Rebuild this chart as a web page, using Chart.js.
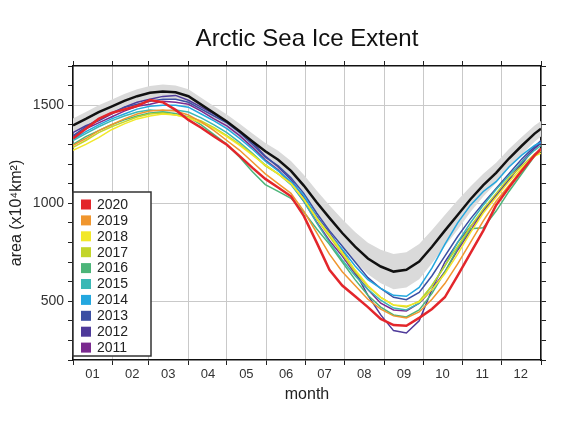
<!DOCTYPE html>
<html>
<head>
<meta charset="utf-8">
<script src="https://cdn.jsdelivr.net/npm/chart.js@4.4.1/dist/chart.umd.min.js"></script>
<style>
  body { margin: 0; background: #fff; }
  #wrap { width: 588px; height: 430px; }
</style>
</head>
<body>
<div id="wrap"><canvas id="iceChart" width="588" height="430"></canvas></div>
<script>
// day of year for each sample
var days = [0,10,20,30,40,50,60,70,80,90,100,110,120,130,140,150,160,170,180,190,200,210,220,230,240,250,260,270,280,290,300,310,320,330,340,350,360,365];
var monthStarts = [0,31,59,90,120,151,181,212,243,273,304,334,365];
var monthLabels = ["01","02","03","04","05","06","07","08","09","10","11","12"];
var yearLabels = ["2020","2019","2018","2017","2016","2015","2014","2013","2012","2011"];
var yearColors = ["#e3262b","#f0962e","#f2e82a","#c2d52a","#4cb579","#3bb8b5","#23a7df","#3b4fa3","#4e3a9a","#7a2a8f"];

// climatology mean and +/- band
var meanExt = [1397,1430,1465,1493,1522,1546,1563,1570,1566,1546,1503,1460,1417,1367,1315,1265,1222,1165,1090,1005,925,848,778,718,677,651,660,702,778,860,940,1020,1092,1155,1228,1293,1355,1380];
var bandHigh = [1432,1465,1500,1528,1557,1581,1598,1605,1601,1581,1538,1495,1452,1405,1355,1307,1267,1215,1145,1065,990,918,853,798,762,741,750,792,863,940,1015,1085,1150,1207,1276,1338,1397,1420];
var bandLow = [1362,1395,1430,1458,1487,1511,1528,1535,1531,1511,1468,1425,1382,1329,1275,1223,1177,1115,1035,945,860,778,703,638,592,561,570,612,693,780,865,955,1034,1103,1180,1248,1313,1340];

var ext2020 = [1330,1380,1430,1460,1478,1496,1526,1515,1476,1425,1385,1340,1298,1240,1180,1124,1080,1035,935,800,660,580,525,470,410,378,375,415,460,520,630,745,860,990,1080,1165,1245,1278];
var ext2019 = [1295,1330,1370,1400,1430,1455,1470,1475,1470,1450,1415,1370,1320,1270,1210,1150,1100,1050,960,850,740,650,580,510,460,425,415,445,510,590,690,800,910,1010,1090,1170,1240,1270];
var ext2018 = [1270,1300,1335,1375,1405,1430,1445,1455,1450,1435,1410,1380,1340,1295,1245,1195,1150,1100,1020,925,840,750,660,580,520,480,475,495,560,640,740,850,950,1030,1110,1180,1240,1255];
var ext2017 = [1285,1320,1360,1390,1415,1440,1455,1460,1450,1440,1420,1385,1345,1300,1250,1190,1150,1100,1020,920,830,740,650,575,520,480,470,500,580,680,780,880,970,1050,1130,1190,1250,1270];
var ext2016 = [1300,1340,1370,1400,1425,1445,1460,1465,1458,1440,1400,1350,1300,1235,1160,1095,1060,1025,955,870,790,700,610,530,470,430,420,455,540,650,770,870,875,960,1060,1150,1240,1270];
var ext2015 = [1320,1355,1390,1420,1445,1465,1475,1470,1475,1465,1435,1400,1360,1310,1255,1195,1150,1095,1010,900,800,710,630,560,505,465,455,490,580,680,800,900,990,1070,1140,1210,1270,1295];
var ext2014 = [1325,1365,1400,1430,1455,1480,1495,1500,1500,1490,1455,1420,1380,1330,1275,1215,1165,1110,1040,930,840,765,680,610,565,530,525,570,670,790,900,990,1060,1110,1185,1245,1295,1310];
var ext2013 = [1345,1390,1430,1460,1488,1505,1520,1530,1530,1515,1480,1445,1410,1360,1300,1235,1190,1130,1050,950,860,780,700,620,565,520,508,545,630,730,830,920,1000,1075,1150,1225,1290,1320];
var ext2012 = [1360,1395,1420,1455,1490,1515,1530,1545,1550,1525,1490,1455,1415,1365,1310,1240,1185,1120,1030,935,850,760,650,530,430,350,338,400,560,700,800,880,960,1040,1120,1200,1280,1310];
var ext2011 = [1340,1380,1410,1440,1470,1495,1505,1520,1515,1505,1470,1430,1395,1345,1285,1220,1170,1100,1010,905,810,730,640,560,490,455,450,490,560,650,760,860,960,1040,1120,1210,1280,1305];

var yearSeries = [ext2020, ext2019, ext2018, ext2017, ext2016, ext2015, ext2014, ext2013, ext2012, ext2011];

function pts(arr) {
	return days.map(function (d, i) { return { x: d, y: arr[i] }; });
}

var datasets = [];
datasets.push({
	label: 'mean',
	data: pts(meanExt),
	borderColor: '#111',
	borderWidth: 2.5,
	pointRadius: 0,
	fill: false,
	order: 0
});
yearSeries.forEach(function (s, i) {
	datasets.push({
		label: yearLabels[i],
		data: pts(s),
		borderColor: yearColors[i],
		backgroundColor: yearColors[i],
		borderWidth: i === 0 ? 2.5 : 1.5,
		pointRadius: 0,
		fill: false,
		isYear: true,
		order: i + 1
	});
});
datasets.push({
	label: 'high',
	data: pts(bandHigh),
	borderWidth: 0,
	borderColor: 'rgba(0,0,0,0)',
	backgroundColor: '#dadada',
	pointRadius: 0,
	fill: '+1',
	order: 20
});
datasets.push({
	label: 'low',
	data: pts(bandLow),
	borderWidth: 0,
	borderColor: 'rgba(0,0,0,0)',
	pointRadius: 0,
	fill: false,
	order: 21
});

// legend box drawn inside the plot, lower left
var insideLegend = {
	id: 'insideLegend',
	afterDraw: function (chart) {
		var ctx = chart.ctx;
		var a = chart.chartArea;
		var x0 = a.left, y0 = a.bottom - 168, w = 78, h = 164;
		ctx.save();
		ctx.fillStyle = '#fff';
		ctx.fillRect(x0, y0, w, h);
		ctx.strokeStyle = '#333';
		ctx.lineWidth = 1.5;
		ctx.strokeRect(x0, y0, w, h);
		ctx.font = '14px "Liberation Sans", Arial, sans-serif';
		ctx.textBaseline = 'middle';
		ctx.fillStyle = '#222';
		var items = chart.data.datasets.filter(function (d) { return d.isYear; });
		items.forEach(function (d, i) {
			var cy = y0 + 12.5 + i * 15.9;
			ctx.fillStyle = d.borderColor;
			ctx.fillRect(x0 + 8, cy - 5, 10, 10);
			ctx.fillStyle = '#222';
			ctx.fillText(d.label, x0 + 24, cy + 0.5);
		});
		ctx.restore();
	}
};

var font = '"Liberation Sans", Arial, sans-serif';
var gridCol = '#c9c9c9';

new Chart(document.getElementById('iceChart').getContext('2d'), {
	type: 'line',
	data: { datasets: datasets },
	plugins: [insideLegend],
	options: {
		responsive: false,
		animation: false,
		layout: { padding: 0 },
		plugins: {
			legend: { display: false },
			tooltip: { enabled: false },
			title: {
				display: true,
				text: 'Arctic Sea Ice Extent',
				fullSize: false,
				color: '#111',
				font: { family: font, size: 24, weight: 'normal', lineHeight: 1.2 },
				padding: { top: 24.6, bottom: 0 }
			}
		},
		scales: {
			x: {
				type: 'linear',
				position: 'bottom',
				min: 0,
				max: 365,
				afterBuildTicks: function (scale) {
					scale.ticks = monthStarts.map(function (v) { return { value: v }; });
				},
				afterFit: function (scale) { scale.height = 70; },
				grid: { color: gridCol, tickColor: '#222', tickLength: 5, drawTicks: true },
				border: { color: '#111', width: 1.5 },
				ticks: {
					autoSkip: false,
					maxRotation: 0,
					labelOffset: 19.5,
					padding: 2,
					color: '#333',
					font: { family: font, size: 13 },
					callback: function (v, i) { return i < 12 ? monthLabels[i] : ''; }
				},
				title: {
					display: true,
					text: 'month',
					color: '#222',
					font: { family: font, size: 16 },
					padding: { top: 0, bottom: 25.4 }
				}
			},
			xTop: {
				type: 'linear',
				position: 'top',
				min: 0,
				max: 365,
				afterBuildTicks: function (scale) {
					scale.ticks = monthStarts.map(function (v) { return { value: v }; });
				},
				afterFit: function (scale) { scale.height = 12.6; },
				grid: { drawOnChartArea: false, tickColor: '#222', tickLength: 5 },
				border: { color: '#111', width: 1.5 },
				ticks: { display: false }
			},
			y: {
				position: 'left',
				min: 200,
				max: 1700,
				afterBuildTicks: function (scale) {
					var t = [];
					for (var v = 200; v <= 1700; v += 100) t.push({ value: v });
					scale.ticks = t;
				},
				afterFit: function (scale) { scale.width = 73; },
				grid: {
					color: function (c) { return c.tick && c.tick.value % 500 === 0 && c.tick.value < 1700 ? gridCol : 'rgba(0,0,0,0)'; },
					tickColor: '#222',
					tickLength: 5
				},
				border: { color: '#111', width: 1.5 },
				ticks: {
					autoSkip: false,
					padding: 4,
					color: '#333',
					font: { family: font, size: 14 },
					callback: function (v) { return v % 500 === 0 && v < 1700 ? v : ''; }
				},
				title: {
					display: true,
					text: 'area (x10\u2074km\u00b2)',
					color: '#222',
					font: { family: font, size: 16 },
					padding: { top: 7.4, bottom: 0 }
				}
			},
			yRight: {
				position: 'right',
				min: 200,
				max: 1700,
				afterBuildTicks: function (scale) {
					var t = [];
					for (var v = 200; v <= 1700; v += 100) t.push({ value: v });
					scale.ticks = t;
				},
				afterFit: function (scale) { scale.width = 47; },
				grid: { drawOnChartArea: false, tickColor: '#222', tickLength: 5 },
				border: { color: '#111', width: 1.5 },
				ticks: { display: false }
			}
		}
	}
});
</script>
</body>
</html>
